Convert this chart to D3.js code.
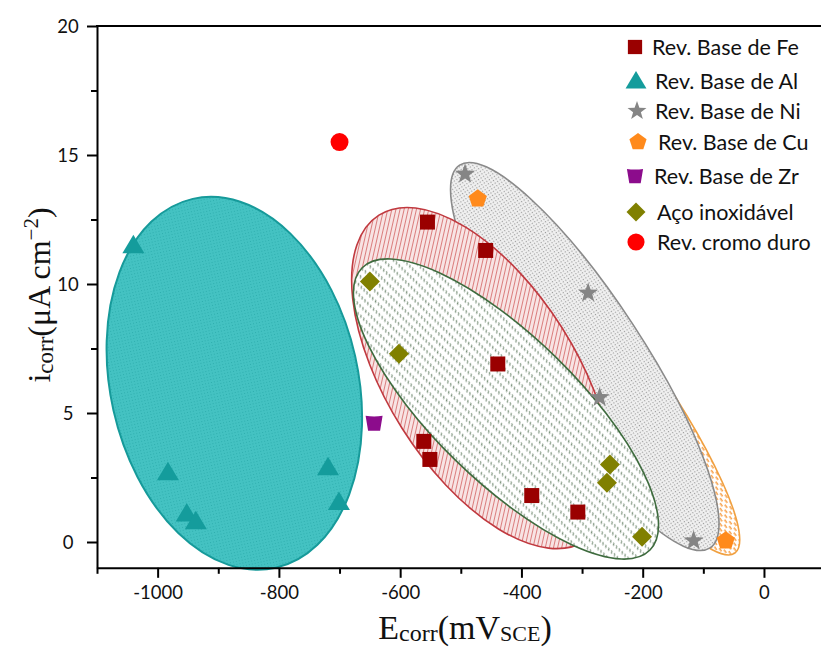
<!DOCTYPE html>
<html><head><meta charset="utf-8">
<script src="https://cdn.jsdelivr.net/npm/d3@7"></script>
<style>body{margin:0;background:#fff}</style>
</head><body>
<svg id="c" width="821" height="648" xmlns="http://www.w3.org/2000/svg"></svg>
<script>
// ---------- data ----------
const seriesNames = ["Rev. Base de Fe","Rev. Base de Al","Rev. Base de Ni","Rev. Base de Cu","Rev. Base de Zr","Aço inoxidável","Rev. cromo duro"];
const feE = [-555,-459,-439,-561,-551,-383,-307];
const feI = [12.4,11.3,6.9,3.9,3.2,1.8,1.16];
const alE = [-1040,-983,-952,-937,-719,-701];
const alI = [11.5,2.7,1.1,0.8,2.9,1.55];
const niE = [-493,-290,-271,-116];
const niI = [14.26,9.65,5.6,0.05];
const cuE = [-472,-63];
const cuI = [13.3,0.05];
const zrE = [-643];
const zrI = [4.6];
const acoE = [-650,-602,-254,-259,-201];
const acoI = [10.1,7.3,3.0,2.3,0.2];
const cromoE = [-700];
const cromoI = [15.5];
const xTicks = [-1000,-800,-600,-400,-200,0];
const xMinor = [-1100,-900,-700,-500,-300,-100];
const yTicks = [0,5,10,15,20];
const yMinor = [2.5,7.5,12.5,17.5];
// grouping regions (major axis ends in data units, minor/major ratio)
const regionNames = ["Cu","Ni","Fe","Aco","Al"];
const regionStart = [[-485,13.84],[-502,14.61],[-635,12.67],[-663,10.62],[-942,13.3]];
const regionEnd   = [[-48,-0.43],[-89,-0.23],[-295,0.04],[-188,-0.31],[-805,-1.0]];
const regionRatio = [0.197,0.253,0.49,0.357,0.655];

// ---------- setup ----------
const svg = d3.select("#c");
const x = d3.scaleLinear().domain([-1100,100]).range([97,824.6]);
const y = d3.scaleLinear().domain([-1,20]).range([567.8,26]);

const defs = svg.append("defs");
function pat(id,w,h,bg,inner,transform){
  const p = defs.append("pattern").attr("id",id).attr("width",w).attr("height",h)
    .attr("patternUnits","userSpaceOnUse");
  if(transform) p.attr("patternTransform",transform);
  p.append("rect").attr("width",w).attr("height",h).attr("fill",bg);
  inner(p);
}
pat("pAl",3,3,"#44c2c2",p=>{p.append("rect").attr("width",1).attr("height",1).attr("fill","#2eaeae");});
pat("pFe",4,4,"#f8e4e4",p=>{p.append("line").attr("x1",0).attr("y1",0).attr("x2",0).attr("y2",4).attr("stroke","#d05a5a").attr("stroke-width",1.5);},"rotate(-45)");
pat("pAco",4,7,"#ffffff",p=>{p.append("path").attr("d","M0.5,2 L2.5,4.5").attr("stroke","#5f7a5f").attr("stroke-width",1.1).attr("fill","none");});
pat("pNi",3,3,"#f1f1f1",p=>{p.append("rect").attr("width",1.2).attr("height",1.2).attr("fill","#9a9a9a");});
pat("pCu",8,6,"#ffffff",p=>{
  p.append("rect").attr("x",0).attr("y",0).attr("width",4).attr("height",1.6).attr("fill","#f7a552");
  p.append("rect").attr("x",4).attr("y",3).attr("width",4).attr("height",1.6).attr("fill","#f7a552");
});
const regionFill = {Cu:"url(#pCu)",Ni:"url(#pNi)",Fe:"url(#pFe)",Aco:"url(#pAco)",Al:"url(#pAl)"};
const regionStroke = {Cu:"#f0a040",Ni:"#8a8a8a",Fe:"#c0393f",Aco:"#3e6b3e",Al:"#169a9a"};

// ---------- ellipses ----------
const gEl = svg.append("g");
regionNames.forEach((n,i)=>{
  const x1=x(regionStart[i][0]), y1=y(regionStart[i][1]);
  const x2=x(regionEnd[i][0]),   y2=y(regionEnd[i][1]);
  const cx=(x1+x2)/2, cy=(y1+y2)/2;
  const a=Math.hypot(x2-x1,y2-y1)/2, b=a*regionRatio[i];
  const ang=Math.atan2(y2-y1,x2-x1)*180/Math.PI;
  gEl.append("ellipse").attr("cx",cx).attr("cy",cy).attr("rx",a).attr("ry",b)
    .attr("transform",`rotate(${ang},${cx},${cy})`)
    .attr("fill",regionFill[n]).attr("stroke",regionStroke[n]).attr("stroke-width",n==="Al"?2:1.6);
});

// ---------- marker shapes ----------
function starPath(R,r){let s="";for(let k=0;k<10;k++){const rr=k%2?r:R;const t=-Math.PI/2+k*Math.PI/5;s+=(k?"L":"M")+(rr*Math.cos(t)).toFixed(2)+","+(rr*Math.sin(t)).toFixed(2);}return s+"Z";}
function pentPath(R){let s="";for(let k=0;k<5;k++){const t=-Math.PI/2+k*2*Math.PI/5;s+=(k?"L":"M")+(R*Math.cos(t)).toFixed(2)+","+(R*Math.sin(t)).toFixed(2);}return s+"Z";}
const shapes = {
  fe: {d:"M-7.5,-7.5H7.5V7.5H-7.5Z", c:"#9a0000"},
  al: {d:"M0,-10.5L11,8L-11,8Z", c:"#149c9c"},
  ni: {d:starPath(10.5,4.3), c:"#858585"},
  cu: {d:pentPath(9.5), c:"#ff8a1c"},
  zr: {d:"M-8.5,-7.5Q0,-6 8.5,-7.5L6,7.5H-6Z", c:"#8c0c8c"},
  aco:{d:"M0,-10L10,0L0,10L-10,0Z", c:"#808000"},
  cromo:{d:d3.symbol(d3.symbolCircle, Math.PI*9*9)(), c:"#ff0000"}
};
const seriesKeys = ["fe","al","ni","cu","zr","aco","cromo"];
const seriesE = [feE,alE,niE,cuE,zrE,acoE,cromoE];
const seriesI = [feI,alI,niI,cuI,zrI,acoI,cromoI];
const gPts = svg.append("g");
seriesKeys.forEach((k,si)=>{
  gPts.selectAll(null).data(d3.zip(seriesE[si],seriesI[si])).join("path")
    .attr("d",shapes[k].d).attr("fill",shapes[k].c)
    .attr("transform",d=>`translate(${x(d[0])},${y(d[1])})`);
});

// ---------- axes ----------
const tickFont = "Lato, 'Open Sans', sans-serif";
const gx = svg.append("g").attr("transform",`translate(0,${y(-1)})`)
  .call(d3.axisBottom(x).tickValues(xTicks).tickSize(10).tickSizeOuter(0).tickFormat(d=>d));
gx.selectAll("text").attr("y",31).attr("dy",0).style("font-family",tickFont).style("font-size","18.5px").attr("fill","#111");
svg.append("g").attr("transform",`translate(0,${y(-1)})`)
  .call(d3.axisBottom(x).tickValues(xMinor).tickSize(6).tickFormat("")).select(".domain").remove();
const gy = svg.append("g").attr("transform",`translate(${x(-1100)},0)`)
  .call(d3.axisLeft(y).tickValues(yTicks).tickSize(10).tickSizeOuter(0));
gy.selectAll("text").attr("x",-29).attr("text-anchor","middle").attr("dy","0.36em").style("font-family",tickFont).style("font-size","18.5px").attr("fill","#111");
svg.append("g").attr("transform",`translate(${x(-1100)},0)`)
  .call(d3.axisLeft(y).tickValues(yMinor).tickSize(6).tickFormat("")).select(".domain").remove();
svg.selectAll(".domain").attr("stroke","#000").attr("stroke-width",2);
svg.selectAll(".tick line").attr("stroke","#000").attr("stroke-width",2);
svg.append("line").attr("x1",x(-1100)-1).attr("x2",821).attr("y1",y(20)).attr("y2",y(20)).attr("stroke","#000").attr("stroke-width",2);

// ---------- axis titles ----------
const serif = "'Liberation Serif','DejaVu Serif',serif";
const xt = svg.append("text").attr("x",465).attr("y",639).attr("text-anchor","middle")
  .style("font-family",serif).style("font-size","34px").attr("fill","#111");
xt.append("tspan").text("E");
xt.append("tspan").attr("dy",2).style("font-size","24px").text("corr");
xt.append("tspan").attr("dy",-2).text("(mV");
xt.append("tspan").attr("dy",2).style("font-size","22px").text("SCE");
xt.append("tspan").attr("dy",-2).text(")");

const yt = svg.append("text").attr("transform","translate(50,295) rotate(-90)").attr("text-anchor","middle")
  .style("font-family",serif).style("font-size","32px").attr("fill","#111");
yt.append("tspan").text("i");
yt.append("tspan").attr("dy",3).style("font-size","23px").text("corr");
yt.append("tspan").attr("dy",-3).text("(μA cm");
yt.append("tspan").attr("dy",-12).style("font-size","21px").text("−2");
yt.append("tspan").attr("dy",12).text(")");

// ---------- legend ----------
const legY = [47,81,111,142,176,212,242];
const legMX = [635,636,637,638,635,636,636];
const legTX = [652,655,655,658,654,657,657];
const gL = svg.append("g");
seriesKeys.forEach((k,i)=>{
  gL.append("path").attr("d",shapes[k].d).attr("fill",shapes[k].c)
    .attr("transform",`translate(${legMX[i]},${legY[i]}) scale(0.95)`);
  gL.append("text").attr("x",legTX[i]).attr("y",legY[i]).attr("dy","0.36em")
    .style("font-family","Lato, 'Open Sans', sans-serif").style("font-size","21.5px").attr("fill","#111")
    .text(seriesNames[i]);
});
</script>
</body></html>
